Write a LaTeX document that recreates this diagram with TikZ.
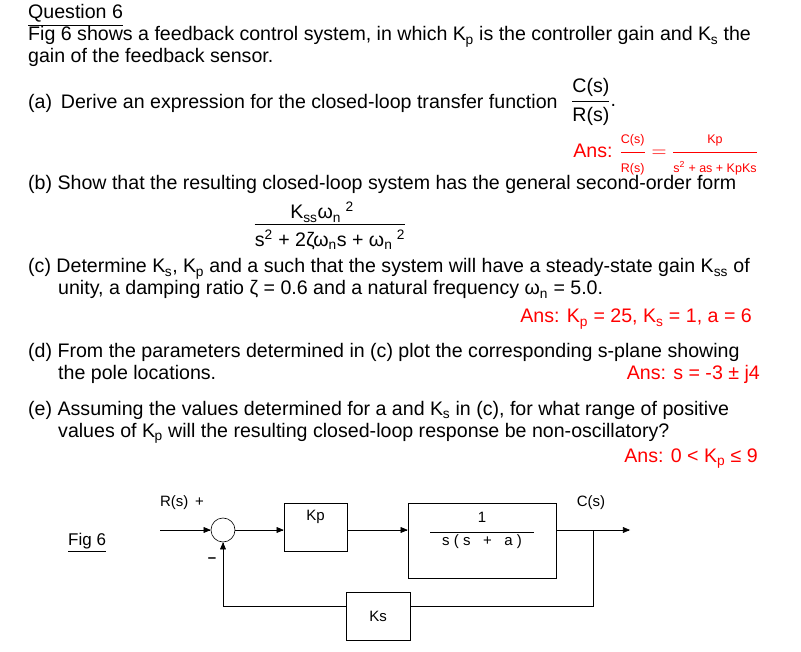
\documentclass[tikz,border=0pt]{standalone}
\usepackage{amsmath}
\usepackage{fontspec}
\setmainfont{Liberation Sans}
\usetikzlibrary{positioning,arrows}
\definecolor{ansred}{rgb}{1,0,0}
\newcommand{\Ksub}[1]{K\textsubscript{\kern-0.5pt#1}}
\newcommand{\smallfr}[1]{\text{\fontsize{12.5}{13}\selectfont #1}}

\begin{document}
\begin{tikzpicture}[x=1pt,y=-1pt,font=\fontsize{19.6}{23}\selectfont]

\tikzset{txt/.style={anchor=base west,inner sep=0pt},
ans/.style={anchor=base east,inner sep=0pt,text=ansred},
blockbox/.style={draw,semithick,inner sep=0pt,font=\fontsize{15}{17}\selectfont},
sig/.style={semithick,-triangle 45},
lbl/.style={inner sep=0pt,font=\fontsize{15}{17}\selectfont}}

\useasboundingbox (0,0) rectangle (801,652);

% Question text
\node[txt] (q) at (28,19) {\underline{Question 6}};
\node[txt] (l1) at (28,41) {Fig 6 shows a feedback control system, in which \Ksub{p} is the controller gain and \Ksub{s} the};
\node[txt] (l2) at (28,63) {gain of the feedback sensor.};
\node[txt] (pa) at (28,109) {(a)\, Derive an expression for the closed-loop transfer function};
\node[anchor=west,inner sep=0pt] (cr) at (571,102) {\(\dfrac{\text{C(s)}}{\text{R(s)}}\).};
\node[ans] (aa) at (758,158) {Ans: \(\dfrac{\smallfr{C(s)}}{\smallfr{R(s)}} = \dfrac{\smallfr{Kp}}{\smallfr{s\textsuperscript{2} + as + KpKs}}\)};
\node[txt] (pb) at (28,190) {(b) Show that the resulting closed-loop system has the general second-order form};
\node[inner sep=0pt] (gnum) at (322,212) {K\textsubscript{ss}ω\textsubscript{n}\textsuperscript{\,\,2}};
\node[inner sep=0pt] (gden) at (330,240) {s\textsuperscript{2} + 2ζω\textsubscript{n}s + ω\textsubscript{n}\textsuperscript{\,\,2}};
\draw (gden.west |- 0,224) -- (gden.east |- 0,224);
\node[txt] (pc) at (28,273) {(c) Determine \Ksub{s}, \Ksub{p} and a such that the system will have a steady-state gain K\textsubscript{ss} of};
\node[txt] (pc2) at (58,295) {unity, a damping ratio ζ = 0.6 and a natural frequency ω\textsubscript{n} = 5.0.};
\node[ans] (ac) at (752,323) {Ans: K\textsubscript{p} = 25, K\textsubscript{s} = 1, a = 6};
\node[txt] (pd) at (28,358) {(d) From the parameters determined in (c) plot the corresponding s-plane showing};
\node[txt] (pd2) at (58,380) {the pole locations.};
\node[ans] (ad) at (760,380) {Ans: s = -3 ± j4};
\node[txt] (pe) at (28,415) {(e) Assuming the values determined for a and \Ksub{s} in (c), for what range of positive};
\node[txt] (pe2) at (58,437) {values of \Ksub{p} will the resulting closed-loop response be non-oscillatory?};
\node[ans] (ae) at (758,462) {Ans: 0 < K\textsubscript{p} ≤ 9};

% Block diagram
\node[txt,font=\fontsize{17}{20}\selectfont] (fig) at (68,545) {\underline{Fig 6}};
\coordinate (rin) at (160,530);
\node[draw,semithick,circle,minimum size=24pt,inner sep=0pt] (sum) at (223,530) {};
\node[blockbox,minimum width=63pt,minimum height=48pt] (kp) at (315.5,527) {};
\node[lbl] at (315.5,517) {Kp};
\node[blockbox,minimum width=148pt,minimum height=75pt] (plant) at (482,540.5) {};
\node[lbl] (one) at (482,517) {1};
\node[lbl] (den) at (482,542) {s ( s \; + \; a )};
\draw (430,532) -- (534,532);
\node[blockbox,minimum width=64pt,minimum height=48pt] (ks) at (378,616) {Ks};
\coordinate (branch) at (593,530);
\coordinate (cout) at (630,530);

\draw[sig] (rin) -- (sum);
\draw[sig] (sum) -- (kp.west |- sum);
\draw[sig] (kp.east |- sum) -- (plant.west |- sum);
\draw[sig] (plant.east |- sum) -- (cout);
\draw[semithick] (branch) |- (ks.east |- 0,606);
\draw[sig] (ks.west |- 0,606) -| (sum);

\node[lbl] (rlab) at (182,503) {R(s) \,+};
\node[lbl] (clab) at (591,503) {C(s)};
\node[lbl] (minus) at (212,560) {\textbf{--}};

\end{tikzpicture}
\end{document}
